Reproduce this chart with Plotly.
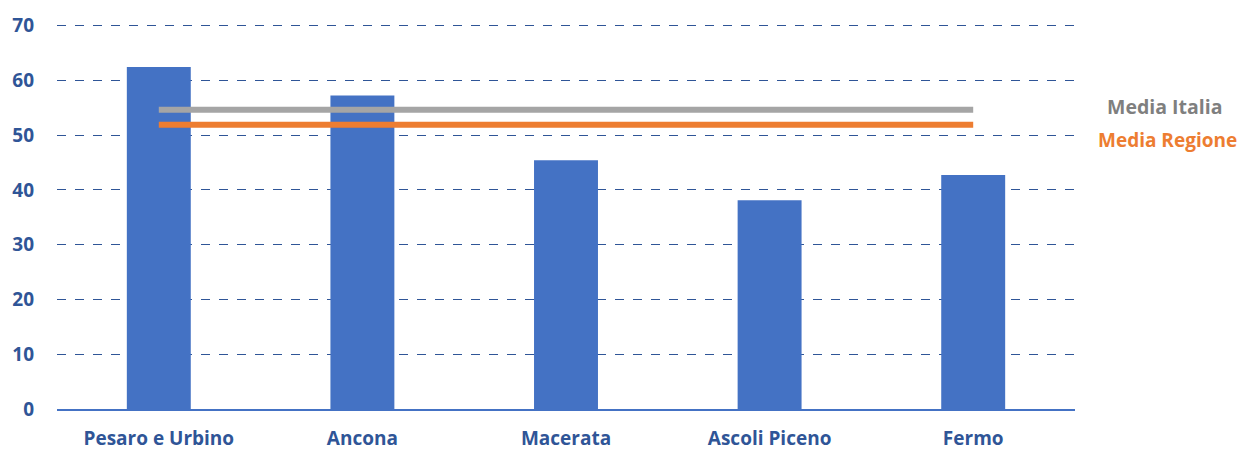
import plotly.graph_objects as go

provinces = ['Pesaro e Urbino', 'Ancona', 'Macerata', 'Ascoli Piceno', 'Fermo']
values = [62.4, 57.2, 45.4, 38.1, 42.7]
media_italia = 54.6
media_regione = 51.9

tick_color = '#2F5597'
font = 'Open Sans'

fig = go.Figure()
fig.add_trace(go.Bar(
    x=provinces, y=values,
    marker=dict(color='#4472C4', line=dict(width=0)),
    showlegend=False,
))
fig.add_trace(go.Scatter(
    x=provinces, y=[media_italia] * len(provinces),
    mode='lines', line=dict(color='#A5A5A5', width=6),
    showlegend=False,
))
fig.add_trace(go.Scatter(
    x=provinces, y=[media_regione] * len(provinces),
    mode='lines', line=dict(color='#ED7D31', width=6),
    showlegend=False,
))

# labels for the two average lines, right of the plot
fig.add_annotation(x=1.0, xref='paper', xanchor='left', xshift=30,
                   y=media_italia, yref='y', yanchor='middle', yshift=3,
                   text='<b>Media Italia</b>', showarrow=False,
                   font=dict(family=font, size=19.5, color='#7F7F7F'))
fig.add_annotation(x=1.0, xref='paper', xanchor='left', xshift=21,
                   y=media_regione, yref='y', yanchor='middle', yshift=-15,
                   text='<b>Media Regione</b>', showarrow=False,
                   font=dict(family=font, size=19, color='#ED7D31'))

# page body adds 8px offset, so figure is a bit smaller than the window
fig.update_layout(
    width=1240, height=442,
    margin=dict(l=49, r=173, t=12, b=41),
    plot_bgcolor='white', paper_bgcolor='white',
    bargap=0.686,
    font=dict(family=font, size=19, color=tick_color),
    xaxis=dict(
        showgrid=False, showline=True, linecolor='#4472C4', linewidth=1.5,
        tickfont=dict(family=font, size=19, color=tick_color, weight='bold'),
        ticks='', ticklabelstandoff=11, automargin=False,
    ),
    yaxis=dict(
        range=[0, 71], tickvals=[0, 10, 20, 30, 40, 50, 60, 70],
        showgrid=True, gridcolor='#2F5597',
        griddash='dash', gridwidth=1, zeroline=False,
        tickfont=dict(family=font, size=19, color=tick_color, weight='bold'),
        ticks='', ticklabelstandoff=22, automargin=False,
    ),
)

fig.write_html("out.html")
